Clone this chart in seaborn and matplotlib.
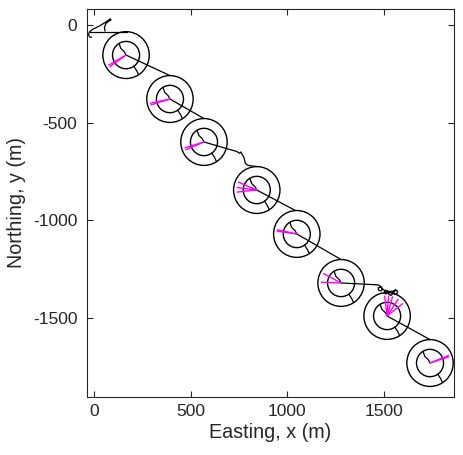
import numpy as np
import pandas as pd
import matplotlib
matplotlib.use("Agg")
import matplotlib.pyplot as plt
from matplotlib.patches import Circle
import seaborn as sns

# ---------------- data ----------------
center_x = [166, 393, 569, 842, 1049, 1278, 1516, 1738]
center_y = [-154, -379, -599, -845, -1070, -1321, -1490, -1731]
outer_r = 120
inner_r = 70

# magenta direction vectors at each station (degrees, length in m)
vec_angles = [[210, 215], [192, 197], [197, 203], [157, 173, 186],
              [168, 172], [152, 178], [97, 86, 74, 56, 38], [18, 22]]
vec_len = 105

# trajectory pieces
start_x = [57, 54, 62, 80, 88, 84, 66, 30, -10, -24, -28, -22, -12]
start_y = [-31, -12, 8, 22, 26, 32, 18, -4, -24, -36, -50, -62, -62]
lead_x = [-22, 170]
lead_y = [-34, -34]

# notch path into each centre (offsets from centre)
notch_dx = [-36, -27, -9, 0]
notch_dy = [60, 34, 17, 0]

# legs from each centre to the next circle (absolute points after the centre)
leg_x = [
    [393],
    [569],
    [739, 753, 760, 765, 774, 779, 783, 795, 818, 842],
    [1042],
    [1278],
    [1471, 1485, 1492, 1484, 1472, 1470, 1482, 1500, 1516, 1520, 1510, 1500, 1504,
     1520, 1540, 1546, 1536, 1524, 1528, 1545, 1560, 1570, 1566, 1554, 1550, 1562],
    [1738],
    [],
]
leg_y = [
    [-259],
    [-479],
    [-648, -657, -650, -661, -674, -691, -708, -718, -722, -725],
    [-950],
    [-1201],
    [-1331, -1340, -1352, -1362, -1358, -1346, -1342, -1358, -1360, -1372, -1378, -1372, -1362,
     -1364, -1364, -1376, -1385, -1378, -1366, -1364, -1356, -1364, -1378, -1378, -1366, -1358],
    [-1611],
    [],
]

# spoke between inner and outer ring (offsets from centre)
spoke_dx = [40, 55, 65]
spoke_dy = [-57, -80, -101]

x_ticks = [0, 500, 1000, 1500]
y_ticks = [0, -500, -1000, -1500]

# ---------------- build table ----------------
rows = []
sid = 0
for x, y in zip(start_x, start_y):
    rows.append((sid, x, y))
sid += 1
for x, y in zip(lead_x, lead_y):
    rows.append((sid, x, y))
sid += 1
for i, (cx, cy) in enumerate(zip(center_x, center_y)):
    for dx, dy in zip(notch_dx, notch_dy):
        rows.append((sid, cx + dx, cy + dy))
    for x, y in zip(leg_x[i], leg_y[i]):
        rows.append((sid, x, y))
    sid += 1
    for dx, dy in zip(spoke_dx, spoke_dy):
        rows.append((sid, cx + dx, cy + dy))
    sid += 1
traj = pd.DataFrame(rows, columns=["seg", "x", "y"])

# ---------------- style ----------------
sns.set_style("ticks")
plt.rcParams["font.family"] = ["Liberation Sans", "DejaVu Sans"]
plt.rcParams["axes.unicode_minus"] = False
plt.rcParams["xtick.direction"] = "in"
plt.rcParams["ytick.direction"] = "in"

dark = "#262626"
fig = plt.figure(figsize=(4.63, 4.55), dpi=100)
ax = fig.add_axes([87 / 463, 1 - 397 / 455, (454 - 87) / 463, (397 - 9) / 455])

sns.lineplot(data=traj, x="x", y="y", units="seg", estimator=None, sort=False,
             color="black", linewidth=0.9, ax=ax, legend=False)

for cx, cy in zip(center_x, center_y):
    ax.add_patch(Circle((cx, cy), outer_r, fill=False, edgecolor="black", linewidth=1.0))
    ax.add_patch(Circle((cx, cy), inner_r, fill=False, edgecolor="black", linewidth=1.0))

for cx, cy, angs in zip(center_x, center_y, vec_angles):
    for a in angs:
        r = np.deg2rad(a)
        ax.plot([cx, cx + vec_len * np.cos(r)], [cy, cy + vec_len * np.sin(r)],
                color="#ff00ff", linewidth=1.0, solid_capstyle="butt")

ax.set_xlim(-36, 1862)
ax.set_ylim(-1905, 82)
ax.set_xticks(x_ticks)
ax.set_yticks(y_ticks)
ax.set_xticklabels([str(v) for v in x_ticks])
ax.set_yticklabels([str(v) for v in y_ticks])
ax.tick_params(axis="both", which="both", direction="in", top=True, right=True,
               length=4, width=0.8, colors=dark, labelsize=12.6, labelcolor=dark)
ax.tick_params(axis="x", pad=5)
ax.tick_params(axis="y", pad=7)
for s in ax.spines.values():
    s.set_visible(True)
    s.set_color(dark)
    s.set_linewidth(0.8)

ax.set_xlabel("Easting, x (m)", fontsize=14.2, color=dark, labelpad=3)
ax.set_ylabel("Northing, y (m)", fontsize=14.2, color=dark, labelpad=5)

fig.savefig("out.png", dpi=100)
